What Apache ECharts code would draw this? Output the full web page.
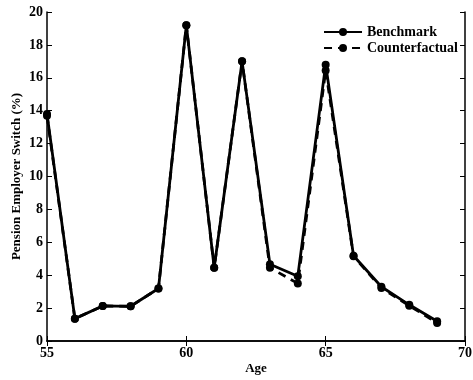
<!DOCTYPE html>
<html><head><meta charset="utf-8">
<script src="https://cdn.jsdelivr.net/npm/echarts@6/dist/echarts.min.js"></script>
<style>html,body{margin:0;padding:0;background:#fff}#c{width:473px;height:380px}</style>
</head><body><div id="c"></div>
<script>
var ages = [55,56,57,58,59,60,61,62,63,64,65,66,67,68,69];
var benchmark = [13.8,1.36,2.13,2.11,3.19,19.2,4.45,17.0,4.67,3.94,16.8,5.18,3.3,2.2,1.2];
var counterfactual = [13.7,1.36,2.13,2.11,3.19,19.2,4.45,17.0,4.45,3.5,16.45,5.15,3.22,2.15,1.1];
var xTicks = [55,60,65,70];
var yTicks = [0,2,4,6,8,10,12,14,16,18,20];

var font = 'Liberation Serif';
function pairs(v){return ages.map(function(a,i){return [a,v[i]];});}
var axisLine = {show:true,lineStyle:{color:'#000',width:1.5}};
var chart = echarts.init(document.getElementById('c'));
chart.setOption({
  animation:false,
  grid:{left:47,right:8,top:12,bottom:39,containLabel:false,outerBoundsMode:'none'},
  legend:{
    right:10, top:20, orient:'vertical', itemWidth:38, itemHeight:10, itemGap:2,
    textStyle:{fontFamily:font,fontWeight:'bold',fontSize:14,color:'#000'},
    data:['Benchmark','Counterfactual']
  },
  xAxis:[{
    type:'value',min:55,max:70,interval:5,
    name:'Age',nameLocation:'middle',nameGap:21,nameMoveOverlap:false,
    nameTextStyle:{fontFamily:font,fontWeight:'bold',fontSize:13,color:'#000'},
    axisLine:axisLine,axisTick:{show:true,inside:true,length:5,lineStyle:{color:'#000'}},
    axisLabel:{fontFamily:font,fontWeight:'bold',fontSize:14,color:'#000',margin:5,
      formatter:function(v){return xTicks.indexOf(v)>=0?String(v):'';}},
    splitLine:{show:false}
  },{
    type:'value',position:'top',min:55,max:70,interval:5,
    axisLine:axisLine,axisTick:{show:true,inside:true,length:5,lineStyle:{color:'#000'}},
    axisLabel:{show:false},splitLine:{show:false}
  }],
  yAxis:[{
    type:'value',min:0,max:20,interval:2,
    name:'Pension Employer Switch (%)',nameLocation:'middle',nameGap:24,nameMoveOverlap:false,
    nameTextStyle:{fontFamily:font,fontWeight:'bold',fontSize:13,color:'#000'},
    axisLine:axisLine,axisTick:{show:true,inside:true,length:5,lineStyle:{color:'#000'}},
    axisLabel:{fontFamily:font,fontWeight:'bold',fontSize:14,color:'#000',margin:4,
      formatter:function(v){return yTicks.indexOf(v)>=0?String(v):'';}},
    splitLine:{show:false}
  },{
    type:'value',position:'right',min:0,max:20,interval:2,
    axisLine:axisLine,axisTick:{show:true,inside:true,length:5,lineStyle:{color:'#000'}},
    axisLabel:{show:false},splitLine:{show:false}
  }],
  series:[{
    name:'Counterfactual',type:'line',data:pairs(counterfactual),
    symbol:'circle',symbolSize:8,
    lineStyle:{color:'#000',width:2.8,type:[8,6]},
    itemStyle:{color:'#000'}
  },{
    name:'Benchmark',type:'line',data:pairs(benchmark),
    symbol:'circle',symbolSize:8,
    lineStyle:{color:'#000',width:2.8},
    itemStyle:{color:'#000'}
  }]
});
</script></body></html>
